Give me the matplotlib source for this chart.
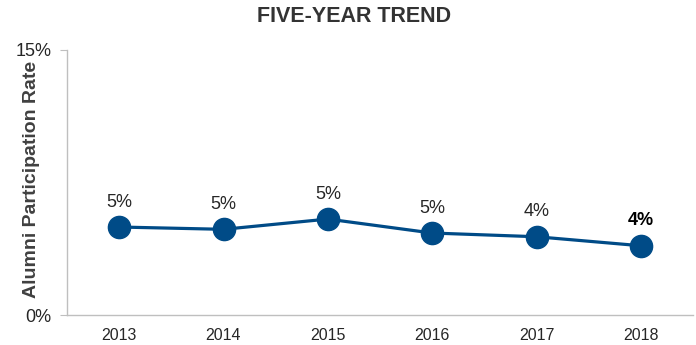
import matplotlib.pyplot as plt

plt.rcParams['font.family'] = ['Liberation Sans', 'DejaVu Sans']

# data
years = ['2013', '2014', '2015', '2016', '2017', '2018']
rates = [4.98, 4.85, 5.43, 4.64, 4.43, 3.92]
labels = ['5%', '5%', '5%', '5%', '4%', '4%']

line_color = '#004B87'
grey = '#BFBFBF'

fig = plt.figure(figsize=(6.96, 3.45), dpi=100)
ax = fig.add_axes([67 / 696, 30 / 345, 626 / 696, 265 / 345])

x = list(range(len(years)))
ax.plot(x, rates, '-o', color=line_color, linewidth=2.3, markersize=16, zorder=3)

# data labels
for i, (xi, r, lab) in enumerate(zip(x, rates, labels)):
    last = i == len(years) - 1
    ax.annotate(lab, (xi, r), textcoords='offset points', xytext=(0, 18),
                ha='center', va='center', fontsize=13,
                fontweight='bold' if last else 'normal',
                color='black' if last else '#262626')

ax.set_xlim(-0.5, len(years) - 0.5)
ax.set_ylim(0, 15)
ax.set_xticks(x)
ax.set_xticklabels(years, fontsize=11.5, color='#262626')
ax.set_yticks([0, 15])
ax.set_yticklabels(['0%', '15%'], fontsize=13, color='#262626')
ax.tick_params(axis='x', length=0, pad=9)
ax.tick_params(axis='y', length=5, color=grey, pad=6)

for s in ['top', 'right']:
    ax.spines[s].set_visible(False)
for s in ['left', 'bottom']:
    ax.spines[s].set_color(grey)
    ax.spines[s].set_linewidth(1)

ax.set_ylabel('Alumni Participation Rate', fontsize=14, fontweight='bold',
              color='#404040', va='center')
ax.yaxis.set_label_coords((32 - 67) / 626, 0.51)

fig.text(354 / 696, 1 - 17 / 345, 'FIVE-YEAR TREND', ha='center', va='center',
         fontsize=15.5, fontweight='bold', color='#333333')

fig.savefig('out.png', dpi=100)
plt.close(fig)
